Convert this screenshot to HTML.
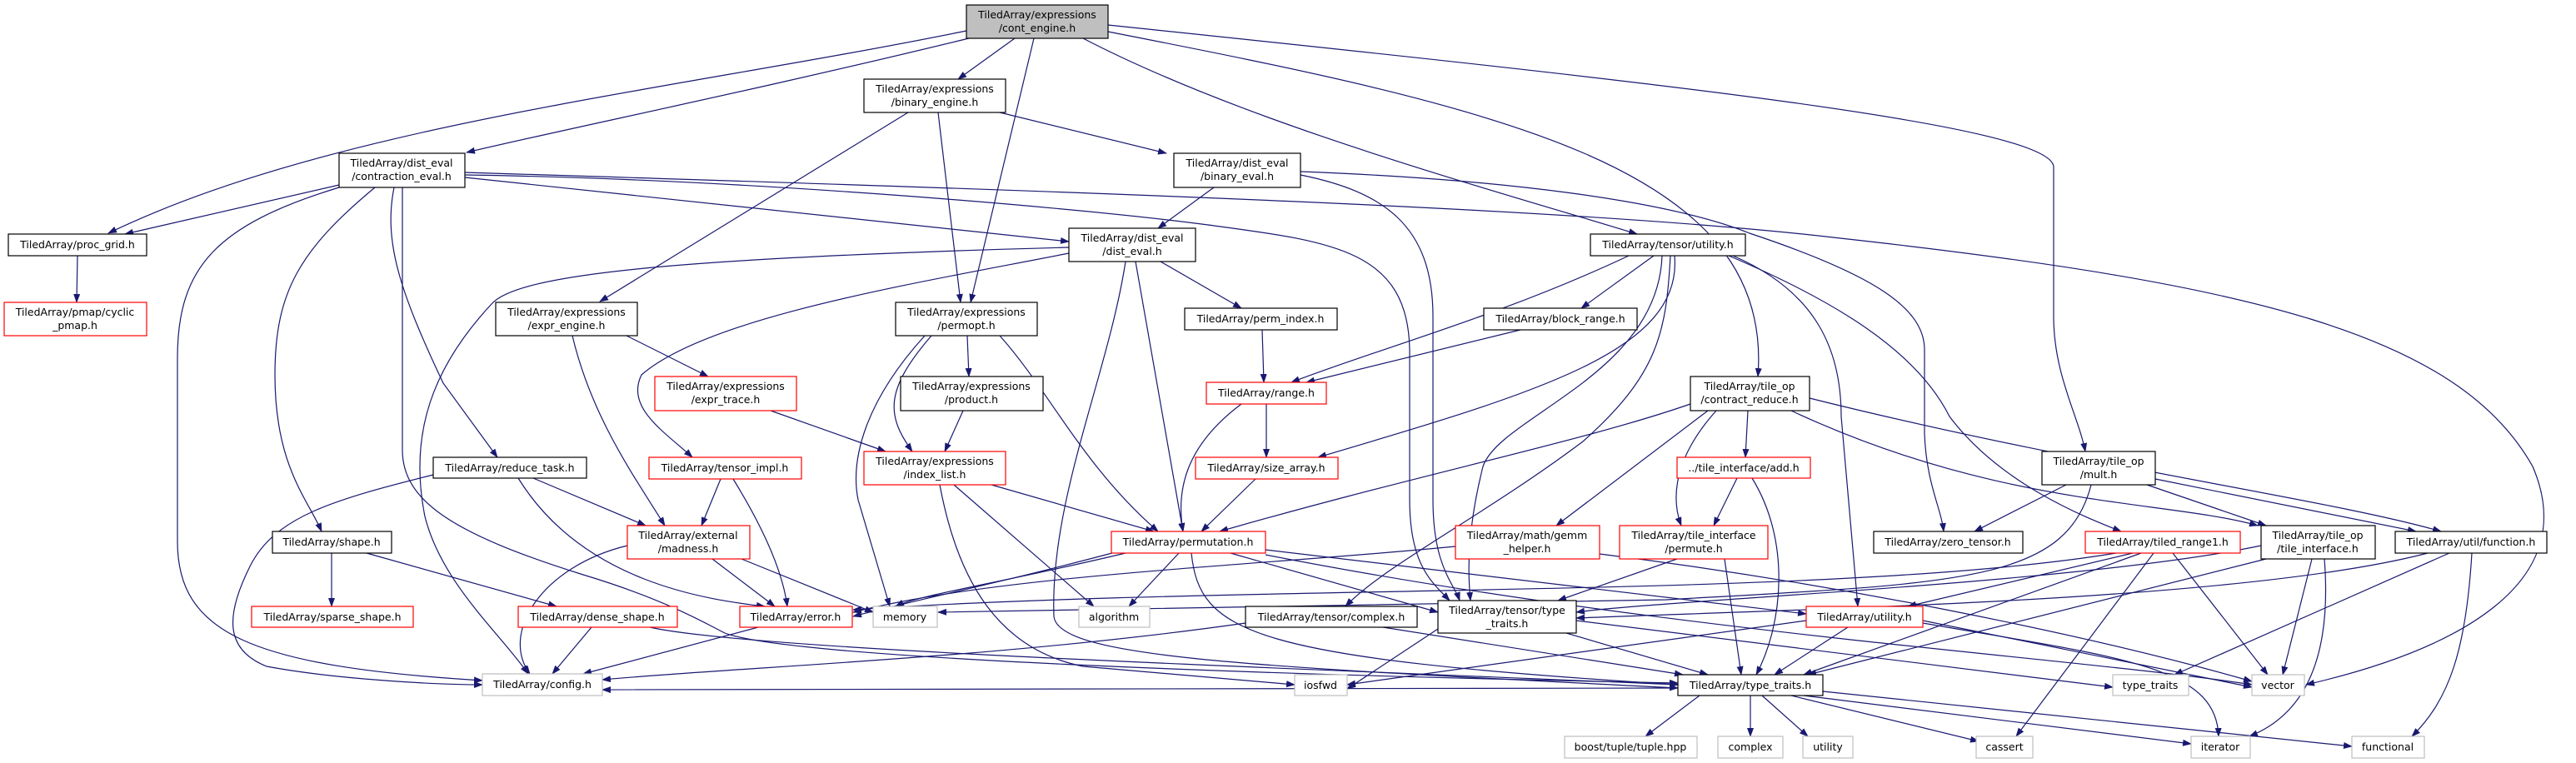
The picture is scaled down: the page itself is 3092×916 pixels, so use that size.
<!DOCTYPE html>
<html><head><meta charset="utf-8"><style>
html,body{margin:0;padding:0;background:#fff;}
svg{display:block;}
text{font-family:"DejaVu Sans","Liberation Sans",sans-serif;font-size:12.5px;fill:#000;}
.e{fill:none;stroke:#191970;stroke-width:1.2;}
.n rect{fill:#fff;stroke:#000;stroke-width:1.2;}
.r rect{fill:#fff;stroke:#ff0000;stroke-width:1.2;}
.g rect{fill:#fff;stroke:#bfbfbf;stroke-width:1.2;}
</style></head><body>
<svg width="3092" height="916" viewBox="0 0 3092 916" xmlns="http://www.w3.org/2000/svg">
<defs><marker id="a" markerWidth="11" markerHeight="8" refX="10" refY="4" orient="auto" markerUnits="userSpaceOnUse"><path d="M0,0 L11,4 L0,8 z" fill="#191970"/></marker></defs>
<g class="e" marker-end="url(#a)">
<path d="M1160,37 C800,110 400,150 130,280"/>
<path d="M1163,46 C900,110 700,150 560,183"/>
<path d="M1218,46 L1150,95"/>
<path d="M1241,46 L1165,363"/>
<path d="M1300,46 C1500,150 1800,230 1965,281"/>
<path d="M1330,38 C1800,130 2130,200 2110,452"/>
<path d="M1330,30 C2000,100 2460,150 2465,200 L2465,380 C2465,450 2495,500 2503,542"/>
<path d="M1090,135 L720,362"/>
<path d="M1126,135 L1153,363"/>
<path d="M1200,135 L1400,184"/>
<path d="M1457,225 L1390,274"/>
<path d="M1561,206 C1800,215 2000,240 2100,280 C2250,330 2310,370 2310,420 L2310,520 C2312,580 2330,610 2333,638"/>
<path d="M1561,210 C1660,230 1720,270 1720,380 L1720,600 C1720,680 1745,700 1752,721"/>
<path d="M407,222 L150,281"/>
<path d="M407,225 C260,270 213,320 213,430 L213,650 C213,760 300,800 579,817"/>
<path d="M450,225 C360,300 330,350 330,450 C330,560 370,600 386,638"/>
<path d="M473,225 C460,290 480,350 532,460 L597,549"/>
<path d="M483,225 L483,540 C483,600 540,640 700,690 C800,720 850,750 870,760 C950,790 1500,810 2014,820"/>
<path d="M558,213 L1283,290"/>
<path d="M558,210 C900,215 1300,250 1450,270 C1600,290 1690,300 1692,420 L1692,600 C1692,680 1720,700 1740,721"/>
<path d="M558,207 C1300,230 1900,250 2200,285 C2700,340 2950,400 3040,560 C3100,700 2950,780 2768,822"/>
<path d="M1283,297 C800,310 620,330 590,365 C520,440 490,520 510,620 C530,700 600,760 634,809"/>
<path d="M1283,304 C1100,340 850,380 770,450 C750,490 800,520 831,549"/>
<path d="M1363,314 L1420,638"/>
<path d="M1351,314 C1330,450 1260,600 1265,740 C1270,790 1500,800 2014,826"/>
<path d="M1393,314 L1490,370"/>
<path d="M752,403 L850,452"/>
<path d="M687,403 C710,500 760,570 798,631"/>
<path d="M925,493 L1063,542"/>
<path d="M1161,403 L1163,452"/>
<path d="M1118,403 C1060,470 1065,500 1095,542"/>
<path d="M1110,403 C1040,480 1020,550 1030,600 L1068,728"/>
<path d="M1200,403 C1260,470 1300,560 1390,638"/>
<path d="M1156,493 L1134,542"/>
<path d="M1190,582 L1385,638"/>
<path d="M1145,582 L1313,728"/>
<path d="M1128,582 C1150,700 1200,780 1300,800 L1554,822"/>
<path d="M1515,396 L1517,459"/>
<path d="M1825,396 L1568,459"/>
<path d="M1955,307 C1800,380 1650,420 1550,459"/>
<path d="M1985,307 L1898,370"/>
<path d="M2010,307 C2020,420 1850,470 1582,549"/>
<path d="M2005,307 C2000,400 1990,450 1900,530 C1780,620 1660,680 1615,728"/>
<path d="M1995,307 C1990,450 1800,500 1780,560 C1760,640 1762,690 1765,721"/>
<path d="M2080,307 C2180,350 2210,420 2210,500 L2230,728"/>
<path d="M2075,307 C2200,360 2300,420 2340,500 C2400,580 2500,620 2546,638"/>
<path d="M1520,485 L1520,549"/>
<path d="M1490,485 C1430,530 1410,580 1420,638"/>
<path d="M1507,575 L1442,638"/>
<path d="M2029,485 C1900,530 1700,570 1464,638"/>
<path d="M2050,493 L1868,631"/>
<path d="M2060,493 C2000,560 2010,610 2018,631"/>
<path d="M2098,493 L2095,549"/>
<path d="M2150,493 C2400,610 2600,600 2710,631"/>
<path d="M2172,478 C2500,560 2800,600 2930,638"/>
<path d="M2085,574 L2057,631"/>
<path d="M2103,574 C2150,650 2140,750 2108,810"/>
<path d="M1747,656 C1500,680 1200,690 1024,735"/>
<path d="M1920,665 C2200,700 2500,760 2703,818"/>
<path d="M2013,671 L1870,721"/>
<path d="M2070,671 L2090,810"/>
<path d="M1351,664 C1200,700 1100,715 1075,728"/>
<path d="M1415,664 L1355,728"/>
<path d="M1350,660 C1200,700 1100,720 1024,740"/>
<path d="M1477,664 L1726,735"/>
<path d="M1430,664 C1440,760 1500,790 2014,822"/>
<path d="M1519,660 L2168,737"/>
<path d="M1519,666 C2000,760 2500,790 2703,822"/>
<path d="M2480,582 L2370,638"/>
<path d="M2577,582 L2720,631"/>
<path d="M2587,575 L2900,638"/>
<path d="M2510,582 C2480,700 2350,700 2000,720 L1126,735"/>
<path d="M2540,664 C2200,720 1500,700 1024,732"/>
<path d="M2560,664 L2290,728"/>
<path d="M2570,664 L2165,810"/>
<path d="M2585,664 L2420,884"/>
<path d="M2608,664 L2722,810"/>
<path d="M2720,671 L2170,810"/>
<path d="M2775,671 L2740,810"/>
<path d="M2790,671 C2800,800 2760,860 2700,884"/>
<path d="M2714,655 C2500,700 2000,720 1892,735"/>
<path d="M2940,664 L2610,810"/>
<path d="M2967,664 C2960,780 2940,840 2895,884"/>
<path d="M2914,664 C2700,720 2200,730 1892,742"/>
<path d="M2218,753 L2130,810"/>
<path d="M2308,745 L2703,825"/>
<path d="M2308,748 C2550,790 2660,800 2663,884"/>
<path d="M2168,745 L1617,822"/>
<path d="M1495,748 C1200,790 900,800 723,816"/>
<path d="M1660,753 L2020,810"/>
<path d="M1726,755 L1617,827"/>
<path d="M1880,760 L2050,810"/>
<path d="M1892,745 L2536,825"/>
<path d="M2040,835 L1975,884"/>
<path d="M2101,835 L2101,884"/>
<path d="M2115,835 L2170,884"/>
<path d="M2150,835 L2375,890"/>
<path d="M2165,835 L2630,893"/>
<path d="M2188,830 L2823,896"/>
<path d="M2014,826 C1500,830 1000,830 723,828"/>
<path d="M710,753 L663,809"/>
<path d="M780,753 C900,780 1500,800 2014,822"/>
<path d="M398,664 L398,728"/>
<path d="M440,664 L668,728"/>
<path d="M520,570 C400,600 330,620 300,680 C270,740 270,780 320,800 C400,815 520,822 579,822"/>
<path d="M640,574 L775,631"/>
<path d="M622,574 C700,700 850,720 918,728"/>
<path d="M865,575 L842,631"/>
<path d="M880,575 C920,640 940,690 945,728"/>
<path d="M753,655 C650,680 600,760 636,809"/>
<path d="M855,671 L930,728"/>
<path d="M890,671 L1048,735"/>
<path d="M910,753 L700,809"/>
<path d="M93,307 L92,363"/>
</g>

<g class="n"><rect x="1160" y="6" width="170" height="40" style="fill:#bfbfbf"/><text x="1245" y="22" text-anchor="middle">TiledArray/expressions</text><text x="1245" y="38" text-anchor="middle">/cont_engine.h</text></g>
<g class="n"><rect x="1037" y="95" width="170" height="40"/><text x="1122" y="111" text-anchor="middle">TiledArray/expressions</text><text x="1122" y="127" text-anchor="middle">/binary_engine.h</text></g>
<g class="n"><rect x="407" y="184" width="151" height="41"/><text x="482" y="200" text-anchor="middle">TiledArray/dist_eval</text><text x="482" y="216" text-anchor="middle">/contraction_eval.h</text></g>
<g class="n"><rect x="1409" y="184" width="152" height="41"/><text x="1485" y="200" text-anchor="middle">TiledArray/dist_eval</text><text x="1485" y="216" text-anchor="middle">/binary_eval.h</text></g>
<g class="n"><rect x="1283" y="274" width="152" height="40"/><text x="1359" y="290" text-anchor="middle">TiledArray/dist_eval</text><text x="1359" y="306" text-anchor="middle">/dist_eval.h</text></g>
<g class="n"><rect x="10" y="281" width="166" height="26"/><text x="93" y="298" text-anchor="middle">TiledArray/proc_grid.h</text></g>
<g class="n"><rect x="1909" y="281" width="186" height="26"/><text x="2002" y="298" text-anchor="middle">TiledArray/tensor/utility.h</text></g>
<g class="r"><rect x="5" y="363" width="171" height="40"/><text x="90" y="379" text-anchor="middle">TiledArray/pmap/cyclic</text><text x="90" y="395" text-anchor="middle">_pmap.h</text></g>
<g class="n"><rect x="595" y="363" width="170" height="40"/><text x="680" y="379" text-anchor="middle">TiledArray/expressions</text><text x="680" y="395" text-anchor="middle">/expr_engine.h</text></g>
<g class="n"><rect x="1075" y="363" width="170" height="40"/><text x="1160" y="379" text-anchor="middle">TiledArray/expressions</text><text x="1160" y="395" text-anchor="middle">/permopt.h</text></g>
<g class="n"><rect x="1422" y="370" width="183" height="26"/><text x="1513" y="387" text-anchor="middle">TiledArray/perm_index.h</text></g>
<g class="n"><rect x="1781" y="370" width="184" height="26"/><text x="1873" y="387" text-anchor="middle">TiledArray/block_range.h</text></g>
<g class="r"><rect x="786" y="452" width="170" height="41"/><text x="871" y="468" text-anchor="middle">TiledArray/expressions</text><text x="871" y="484" text-anchor="middle">/expr_trace.h</text></g>
<g class="n"><rect x="1081" y="452" width="171" height="41"/><text x="1166" y="468" text-anchor="middle">TiledArray/expressions</text><text x="1166" y="484" text-anchor="middle">/product.h</text></g>
<g class="r"><rect x="1448" y="459" width="144" height="26"/><text x="1520" y="476" text-anchor="middle">TiledArray/range.h</text></g>
<g class="n"><rect x="2029" y="452" width="143" height="41"/><text x="2100" y="468" text-anchor="middle">TiledArray/tile_op</text><text x="2100" y="484" text-anchor="middle">/contract_reduce.h</text></g>
<g class="n"><rect x="2451" y="542" width="136" height="40"/><text x="2519" y="558" text-anchor="middle">TiledArray/tile_op</text><text x="2519" y="574" text-anchor="middle">/mult.h</text></g>
<g class="n"><rect x="520" y="549" width="184" height="25"/><text x="612" y="566" text-anchor="middle">TiledArray/reduce_task.h</text></g>
<g class="r"><rect x="779" y="549" width="183" height="26"/><text x="870" y="566" text-anchor="middle">TiledArray/tensor_impl.h</text></g>
<g class="r"><rect x="1037" y="542" width="170" height="40"/><text x="1122" y="558" text-anchor="middle">TiledArray/expressions</text><text x="1122" y="574" text-anchor="middle">/index_list.h</text></g>
<g class="r"><rect x="1435" y="549" width="171" height="26"/><text x="1520" y="566" text-anchor="middle">TiledArray/size_array.h</text></g>
<g class="r"><rect x="2013" y="549" width="160" height="25"/><text x="2093" y="566" text-anchor="middle">../tile_interface/add.h</text></g>
<g class="n"><rect x="327" y="638" width="143" height="26"/><text x="398" y="655" text-anchor="middle">TiledArray/shape.h</text></g>
<g class="r"><rect x="753" y="631" width="147" height="40"/><text x="826" y="647" text-anchor="middle">TiledArray/external</text><text x="826" y="663" text-anchor="middle">/madness.h</text></g>
<g class="r"><rect x="1334" y="638" width="185" height="26"/><text x="1426" y="655" text-anchor="middle">TiledArray/permutation.h</text></g>
<g class="r"><rect x="1747" y="631" width="173" height="40"/><text x="1833" y="647" text-anchor="middle">TiledArray/math/gemm</text><text x="1833" y="663" text-anchor="middle">_helper.h</text></g>
<g class="r"><rect x="1944" y="631" width="178" height="40"/><text x="2033" y="647" text-anchor="middle">TiledArray/tile_interface</text><text x="2033" y="663" text-anchor="middle">/permute.h</text></g>
<g class="n"><rect x="2249" y="638" width="179" height="26"/><text x="2338" y="655" text-anchor="middle">TiledArray/zero_tensor.h</text></g>
<g class="r"><rect x="2503" y="638" width="186" height="26"/><text x="2596" y="655" text-anchor="middle">TiledArray/tiled_range1.h</text></g>
<g class="n"><rect x="2714" y="631" width="137" height="40"/><text x="2782" y="647" text-anchor="middle">TiledArray/tile_op</text><text x="2782" y="663" text-anchor="middle">/tile_interface.h</text></g>
<g class="n"><rect x="2875" y="638" width="182" height="26"/><text x="2966" y="655" text-anchor="middle">TiledArray/util/function.h</text></g>
<g class="r"><rect x="302" y="728" width="194" height="25"/><text x="399" y="745" text-anchor="middle">TiledArray/sparse_shape.h</text></g>
<g class="r"><rect x="622" y="728" width="191" height="25"/><text x="717" y="745" text-anchor="middle">TiledArray/dense_shape.h</text></g>
<g class="r"><rect x="888" y="728" width="135" height="25"/><text x="955" y="745" text-anchor="middle">TiledArray/error.h</text></g>
<g class="g"><rect x="1048" y="728" width="77" height="25"/><text x="1086" y="745" text-anchor="middle">memory</text></g>
<g class="g"><rect x="1295" y="728" width="85" height="25"/><text x="1337" y="745" text-anchor="middle">algorithm</text></g>
<g class="n"><rect x="1495" y="728" width="206" height="25"/><text x="1598" y="745" text-anchor="middle">TiledArray/tensor/complex.h</text></g>
<g class="n"><rect x="1726" y="721" width="166" height="39"/><text x="1809" y="737" text-anchor="middle">TiledArray/tensor/type</text><text x="1809" y="753" text-anchor="middle">_traits.h</text></g>
<g class="r"><rect x="2168" y="728" width="140" height="25"/><text x="2238" y="745" text-anchor="middle">TiledArray/utility.h</text></g>
<g class="g"><rect x="579" y="809" width="144" height="26"/><text x="651" y="826" text-anchor="middle">TiledArray/config.h</text></g>
<g class="g"><rect x="1554" y="810" width="63" height="25"/><text x="1585" y="827" text-anchor="middle">iosfwd</text></g>
<g class="n"><rect x="2014" y="810" width="174" height="25"/><text x="2101" y="827" text-anchor="middle">TiledArray/type_traits.h</text></g>
<g class="g"><rect x="2536" y="810" width="91" height="25"/><text x="2581" y="827" text-anchor="middle">type_traits</text></g>
<g class="g"><rect x="2703" y="810" width="63" height="25"/><text x="2734" y="827" text-anchor="middle">vector</text></g>
<g class="g"><rect x="1878" y="884" width="159" height="26"/><text x="1957" y="901" text-anchor="middle">boost/tuple/tuple.hpp</text></g>
<g class="g"><rect x="2062" y="884" width="78" height="26"/><text x="2101" y="901" text-anchor="middle">complex</text></g>
<g class="g"><rect x="2164" y="884" width="60" height="26"/><text x="2194" y="901" text-anchor="middle">utility</text></g>
<g class="g"><rect x="2372" y="884" width="68" height="26"/><text x="2406" y="901" text-anchor="middle">cassert</text></g>
<g class="g"><rect x="2630" y="884" width="71" height="26"/><text x="2665" y="901" text-anchor="middle">iterator</text></g>
<g class="g"><rect x="2823" y="884" width="87" height="26"/><text x="2866" y="901" text-anchor="middle">functional</text></g>
</svg>
</body></html>
